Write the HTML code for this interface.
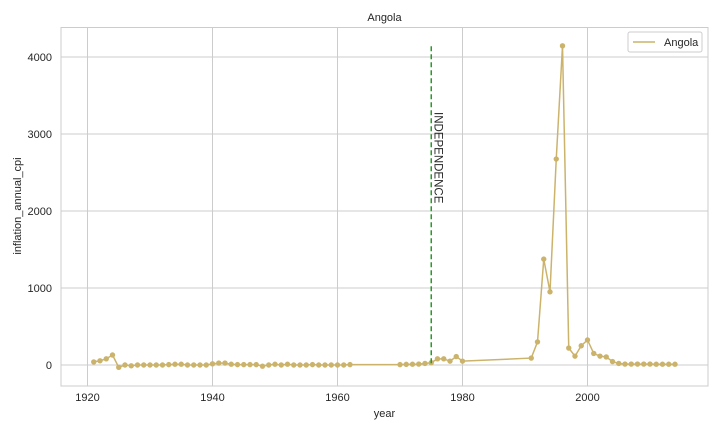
<!DOCTYPE html>
<html><head><meta charset="utf-8"><style>
body{margin:0;background:#fff;font-family:"Liberation Sans",sans-serif;}
svg text{font-family:"Liberation Sans",sans-serif;fill:#262626;}
</style></head><body>
<svg id="chart" width="720" height="432">
<text x="384.5" y="21" font-size="11" text-anchor="middle">Angola</text>
<g id="grid"></g>
<rect x="61" y="27.5" width="647" height="358.5" fill="none" stroke="#ccc" stroke-width="1"/>
<g id="ticks"></g>
<text x="384.5" y="417" font-size="11" text-anchor="middle">year</text>
<text transform="translate(21,206) rotate(-90)" font-size="11" text-anchor="middle">inflation_annual_cpi</text>
<g id="marks"></g>
<g>
<rect x="628" y="32" width="74" height="20" rx="2" fill="#fff" stroke="#ccc"/>
<line x1="633" y1="42" x2="655" y2="42" stroke="#ccb36b" stroke-width="1.5"/>
<text x="664" y="46" font-size="11">Angola</text>
</g>
</svg>
<script>
const years=[1921,1922,1923,1924,1925,1926,1927,1928,1929,1930,1931,1932,1933,1934,1935,1936,1937,1938,1939,1940,1941,1942,1943,1944,1945,1946,1947,1948,1949,1950,1951,1952,1953,1954,1955,1956,1957,1958,1959,1960,1961,1962,1970,1971,1972,1973,1974,1975,1976,1977,1978,1979,1980,1991,1992,1993,1994,1995,1996,1997,1998,1999,2000,2001,2002,2003,2004,2005,2006,2007,2008,2009,2010,2011,2012,2013,2014];
const values=[40,55,80,130,-30,0,-10,0,0,0,0,0,5,10,10,0,0,0,0,15,25,25,10,5,5,5,5,-15,0,10,0,10,0,0,0,5,0,0,0,0,0,5,5,8,10,12,20,30,80,80,50,110,50,90,300,1375,950,2675,4145,220,115,250,325,150,115,105,45,20,12,12,12,12,12,10,10,10,10];
const xTicks=[1920,1940,1960,1980,2000];
const yTicks=[0,1000,2000,3000,4000];
const eventYear=1975, eventTop=4140, eventLabel="INDEPENDENCE";
const X=y=>87.5+(y-1920)*6.25;
const Y=v=>365-v*0.077;
const ns="http://www.w3.org/2000/svg";
function mk(tag,attrs,parent){const e=document.createElementNS(ns,tag);for(const k in attrs)e.setAttribute(k,attrs[k]);parent.appendChild(e);return e;}
const grid=document.getElementById('grid'),ticks=document.getElementById('ticks'),marks=document.getElementById('marks');
xTicks.forEach(t=>{
 const l=mk('line',{x1:X(t),x2:X(t),y1:27.5,y2:386,stroke:'#ccc','stroke-width':1},grid);
 
 
 const tx=mk('text',{x:X(t),y:401,'font-size':11,'text-anchor':'middle'},ticks);tx.textContent=t;
 
 
});
yTicks.forEach(t=>{
 const l=mk('line',{x1:61,x2:708,y1:Y(t),y2:Y(t),stroke:'#ccc','stroke-width':1},grid);
 
 
 const tx=mk('text',{x:52,y:Y(t)+4,'font-size':11,'text-anchor':'end'},ticks);tx.textContent=t;
 
 
});
const p=mk('polyline',{points:years.map((y,i)=>X(y)+','+Y(values[i])).join(' '),fill:'none',stroke:'#ccb36b','stroke-width':1.5},marks);


years.forEach((y,i)=>{
 const c=mk('circle',{cx:X(y),cy:Y(values[i]),r:2.7,fill:'#ccb36b'},marks);
 
 
});
const ev=mk('line',{x1:X(eventYear),x2:X(eventYear),y1:Y(eventTop),y2:Y(0),stroke:'#2a9a2a','stroke-width':1.5,'stroke-dasharray':'5,3'},marks);


const et=mk('text',{transform:`translate(${X(eventYear)+3},112) rotate(90)`,'font-size':11.5},marks);
et.textContent=eventLabel;


</script>
</body></html>
